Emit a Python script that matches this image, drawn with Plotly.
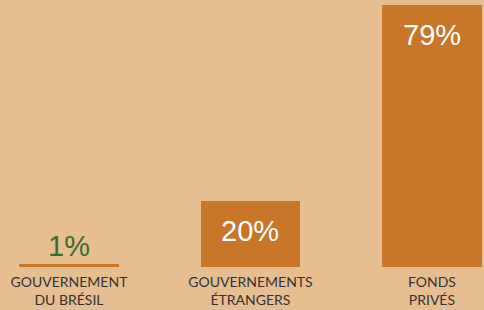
import plotly.graph_objects as go

categories = ["GOUVERNEMENT<br>DU BRÉSIL", "GOUVERNEMENTS<br>ÉTRANGERS", "FONDS<br>PRIVÉS"]
values = [1, 20, 79]
labels = ["1%", "20%", "79%"]

BG = "#E5BE91"
BAR = "#C97628"

fig = go.Figure(go.Bar(
    x=categories, y=values, marker=dict(color=BAR, line=dict(width=0)),
    width=0.55, hoverinfo="skip",
))

for cat, v, lab in zip(categories, values, labels):
    if v < 5:
        fig.add_annotation(x=cat, y=v, text=lab, showarrow=False, yanchor="bottom",
                           yshift=0, font=dict(family="Liberation Sans", size=29, color="#3D6B35"))
    else:
        fig.add_annotation(x=cat, y=v, text=lab, showarrow=False, yanchor="top",
                           yshift=-12, font=dict(family="Liberation Sans", size=29, color="white"))

fig.update_layout(
    width=484, height=310,
    margin=dict(l=0, r=0, t=5, b=43),
    paper_bgcolor=BG, plot_bgcolor=BG,
    showlegend=False,
    bargap=0,
    xaxis=dict(range=[-0.38, 2.287], showgrid=False, zeroline=False, showline=False,
               ticks="", ticklabelstandoff=5,
               tickfont=dict(family="Lato", size=14, color="#333333")),
    yaxis=dict(range=[0, 79], visible=False),
)

fig.write_html("out.html", config={"displayModeBar": False},
               post_script="document.body.style.margin='0';")
